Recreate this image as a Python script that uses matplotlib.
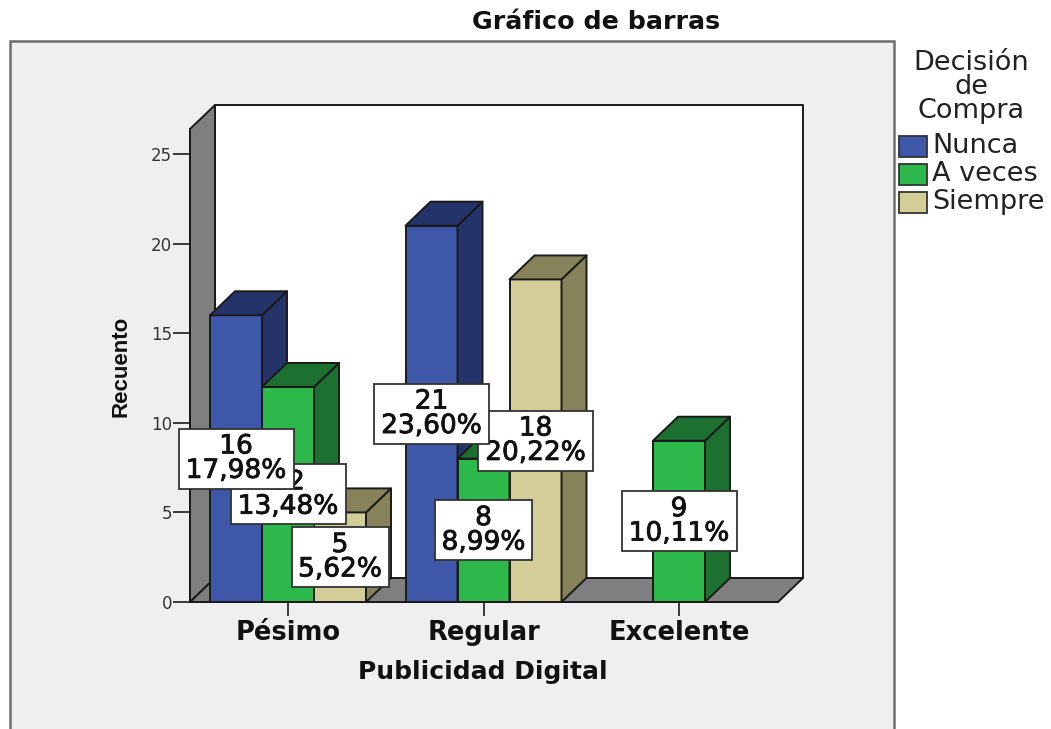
import matplotlib
matplotlib.use("Agg")
import matplotlib.pyplot as plt
import matplotlib.patheffects as pe
from matplotlib.patches import Polygon, Rectangle

categories = ["Pésimo", "Regular", "Excelente"]
series_names = ["Nunca", "A veces", "Siempre"]
nunca = [16, 21, 0]
a_veces = [12, 8, 9]
siempre = [5, 18, 0]
pct_nunca = ["17,98%", "23,60%", ""]
pct_a_veces = ["13,48%", "8,99%", "10,11%"]
pct_siempre = ["5,62%", "20,22%", ""]
y_ticks = [0, 5, 10, 15, 20, 25]

W, H = 1051, 729
front = ["#3e57a8", "#2db84c", "#d3ce97"]
dark = ["#24336a", "#1c7030", "#868259"]
EDGE = "#1a1a1a"
GREY = "#7f7f7f"
PANEL = "#efefef"

fig = plt.figure(figsize=(W / 100, H / 100), dpi=100, facecolor="white")
plt.rcParams["font.family"] = "DejaVu Sans"
fig.add_artist(Rectangle((10 / W, -0.01), 884 / W, 1 - 41 / H + 0.01, transform=fig.transFigure,
                         facecolor=PANEL, edgecolor="#6e6e6e", lw=1.8, zorder=-1))

L, R, B, T = 190, 778, 602, 129
ax = fig.add_axes([L / W, 1 - B / H, (R - L) / W, (B - T) / H])
px_x, px_y = 195.5, 17.92
ax.set_xlim((L - 288) / px_x, (R - 288) / px_x)
ax.set_ylim(0, (B - T) / px_y)
ax.patch.set_visible(False)
for s in ["top", "right"]:
    ax.spines[s].set_visible(False)
for s in ["left", "bottom"]:
    ax.spines[s].set_color(EDGE)
    ax.spines[s].set_linewidth(1.4)
    ax.spines[s].set_zorder(1.5)

dx, dy = 25 / px_x, 24 / px_y
x0, x1 = ax.get_xlim()
y1 = ax.get_ylim()[1]


def poly(pts, fc, z):
    ax.add_patch(Polygon(pts, closed=True, facecolor=fc, edgecolor=EDGE, lw=1.4,
                         zorder=z, clip_on=False, joinstyle="round"))


# back wall, side wall, floor
poly([(x0 + dx, dy), (x1 + dx, dy), (x1 + dx, y1 + dy), (x0 + dx, y1 + dy)], "white", 1)
poly([(x0, 0), (x0 + dx, dy), (x0 + dx, y1 + dy), (x0, y1)], GREY, 1.1)
poly([(x0, 0), (x1, 0), (x1 + dx, dy), (x0 + dx, dy)], GREY, 1.2)

bw = 52 / px_x
values = [nunca, a_veces, siempre]
pcts = [pct_nunca, pct_a_veces, pct_siempre]
z = 2.0
for c in range(len(categories)):
    for s in range(3):
        v = values[s][c]
        if v == 0:
            continue
        a = c + (s - 1.5) * bw
        b = a + bw
        poly([(a, 0), (b, 0), (b, v), (a, v)], front[s], z)
        poly([(b, 0), (b + dx, dy), (b + dx, v + dy), (b, v)], dark[s], z)
        poly([(a, v), (b, v), (b + dx, v + dy), (a + dx, v + dy)], dark[s], z)
        z += 0.01

# value labels, centred on each bar
order = [(0, 1), (0, 0), (0, 2), (1, 1), (1, 2), (1, 0), (2, 1)]
semi = [pe.withStroke(linewidth=0.6, foreground="#111111")]
for i, (c, s) in enumerate(order):
    v = values[s][c]
    xc = c + (s - 1) * bw
    yc = v / 2
    wid = 115 if pcts[s][c] not in ("5,62%", "8,99%") else 97
    bx, by = wid / px_x / 2, 60 / px_y / 2
    ax.add_patch(Rectangle((xc - bx, yc - by), 2 * bx, 2 * by, facecolor="white",
                           edgecolor="#333333", lw=1.3, zorder=5 + i * 0.1, clip_on=False))
    ax.text(xc, yc, f"{v}\n{pcts[s][c]}", ha="center", va="center", fontsize=19,
            linespacing=0.92, color="#111111", zorder=5.05 + i * 0.1, clip_on=False,
            path_effects=semi)

ax.set_yticks(y_ticks)
ax.set_xticks(range(len(categories)), categories)
ax.tick_params(axis="y", length=12, width=1.2, color=EDGE, labelsize=12, labelcolor="#333333", pad=1)
ax.tick_params(axis="x", length=10, width=1.2, color=EDGE, labelsize=18.5, pad=3)
for t in ax.get_xticklabels():
    t.set_fontweight("bold")
    t.set_color("#111111")

fig.text(483 / W, 1 - 672 / H, "Publicidad Digital", ha="center", va="center",
         fontsize=18, fontweight="bold", color="#111111")
fig.text(121 / W, 1 - 366 / H, "Recuento", rotation=90, ha="center", va="center",
         fontsize=16, fontweight="bold", color="#111111", fontfamily="Liberation Sans")
fig.text(596 / W, 1 - 22 / H, "Gráfico de barras", ha="center", va="center",
         fontsize=18.3, fontweight="bold", color="#111111")

# legend
for txt, yy in zip(["Decisión", "de", "Compra"], [63, 87, 111]):
    fig.text(971 / W, 1 - yy / H, txt, ha="center", va="center", fontsize=19.5, color="#222222")
for name, fc, yy in zip(series_names, front, [146, 174, 202]):
    fig.add_artist(Rectangle((899 / W, 1 - (yy + 10.5) / H), 28 / W, 21 / H, transform=fig.transFigure,
                             facecolor=fc, edgecolor="#333333", lw=1.3))
    fig.text(932 / W, 1 - yy / H, name, ha="left", va="center", fontsize=19.5, color="#222222")

fig.savefig("out.png", dpi=100, facecolor="white")
